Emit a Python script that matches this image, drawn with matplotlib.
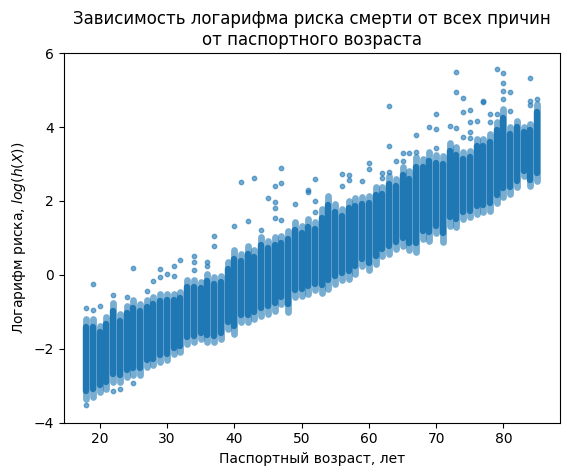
import matplotlib
matplotlib.use("Agg")
import matplotlib.pyplot as plt

# Passport age (integer columns) and the vertical extent of each column of points
ages = list(range(18, 86))
col_low = [-3.35, -3.31, -3.17, -3.08, -2.90, -2.90, -2.77, -2.72, -2.72, -2.49,
           -2.45, -2.36, -2.31, -2.13, -2.09, -1.86, -1.82, -1.73, -1.82, -1.82,
           -1.73, -1.46, -1.60, -1.28, -1.28, -1.19, -1.10, -1.05, -0.97, -0.79,
           -1.01, -0.60, -0.56, -0.51, -0.42, -0.50, -0.38, -0.24, -0.15, -0.11,
           0.03, 0.25, 0.12, 0.30, 0.52, 0.57, 0.70, 0.79, 0.66, 0.61,
           0.97, 0.93, 1.12, 0.90, 1.33, 1.29, 1.51, 1.56, 1.65, 1.69,
           1.74, 1.95, 2.10, 2.19, 2.37, 2.68, 2.41, 2.55]
col_high = [-1.20, -1.19, -1.37, -1.14, -0.75, -1.05, -0.83, -0.69, -0.78, -0.69,
            -0.60, -0.51, -0.51, -0.51, -0.47, -0.15, -0.15, -0.20, 0.03, -0.06,
            -0.02, 0.34, 0.66, 0.57, 0.78, 0.66, 1.02, 0.93, 1.02, 1.06,
            1.20, 1.42, 1.33, 1.51, 1.42, 1.78, 2.14, 1.92, 1.78, 2.01,
            2.07, 2.10, 2.14, 2.37, 2.37, 2.68, 2.59, 2.91, 2.82, 3.18,
            3.14, 3.32, 3.25, 3.22, 3.58, 3.45, 3.32, 3.36, 3.68, 3.68,
            3.81, 4.13, 4.49, 3.99, 4.17, 4.00, 4.08, 4.62]

# Isolated points outside the dense columns
out_age = [18, 18, 19, 19, 20, 22, 22, 23, 24, 25, 25, 27, 28, 29, 29, 30, 31, 31,
           32, 34, 34, 34, 36, 36, 37, 37, 40, 41, 42, 43, 44, 45, 46, 46, 46, 46,
           47, 47, 47, 49, 51, 51, 52, 52, 52, 56, 56, 57, 57, 59, 60, 60, 62, 62,
           63, 63, 63, 64, 65, 65, 66, 67, 67, 69, 70, 70, 70, 72, 73, 73, 73, 74,
           74, 74, 75, 75, 75, 75, 76, 77, 77, 78, 78, 79, 79, 80, 80, 80, 80, 81,
           81, 84, 84, 84, 85]
out_val = [-3.53, -0.90, -0.24, -0.96, -0.85, -3.14, -0.55, -3.10, -0.59, 0.18,
           -2.92, -0.44, -0.17, 0.16, -0.06, 0.03, 0.25, -0.02, 0.39, 0.52, 0.34,
           0.12, 0.34, 0.23, 1.05, 0.78, 1.32, 2.51, 1.45, 2.62, 1.22, 2.07, 2.41,
           1.96, 1.80, 1.53, 2.88, 2.48, 1.49, 1.92, 2.31, 2.24, 2.60, 2.01, 1.69,
           2.73, 2.40, 2.69, 2.58, 2.55, 3.03, 2.87, 2.76, 2.61, 4.58, 3.50, 2.79,
           3.09, 3.30, 3.09, 3.30, 3.78, 3.32, 3.99, 4.35, 3.95, 3.42, 4.04, 5.50,
           4.94, 3.97, 4.78, 4.40, 3.72, 4.47, 4.14, 3.87, 3.69, 4.15, 4.71, 4.67,
           4.35, 4.13, 5.57, 4.35, 5.46, 5.19, 4.98, 4.76, 4.94, 4.44, 5.33, 4.71,
           4.60, 4.77]

C0 = "#1f77b4"
fig, ax = plt.subplots(figsize=(6.4, 4.8), dpi=100)

# Dense columns: light fringe over the full extent, solid core in the middle
ax.vlines(ages, col_low, col_high, colors=C0, alpha=0.6, linewidth=4.9,
          capstyle="round")
core_lo = [l + 0.1 * (h - l) for l, h in zip(col_low, col_high)]
core_hi = [h - 0.1 * (h - l) for l, h in zip(col_low, col_high)]
ax.vlines(ages, core_lo, core_hi, colors=C0, alpha=1.0, linewidth=4.6,
          capstyle="round")
ax.scatter(out_age, out_val, s=10, alpha=0.6, color=C0)

ax.set_xlim(14.65, 88.35)
ax.set_ylim(-4.0, 6.0)
ax.set_xticks([20, 30, 40, 50, 60, 70, 80])
ax.set_yticks([-4, -2, 0, 2, 4, 6])
ax.set_title("Зависимость логарифма риска смерти от всех причин\nот паспортного возраста")
ax.set_xlabel("Паспортный возраст, лет")
ax.set_ylabel("Логарифм риска, $log(h(X))$")

fig.savefig("out.png", dpi=100, bbox_inches="tight")
